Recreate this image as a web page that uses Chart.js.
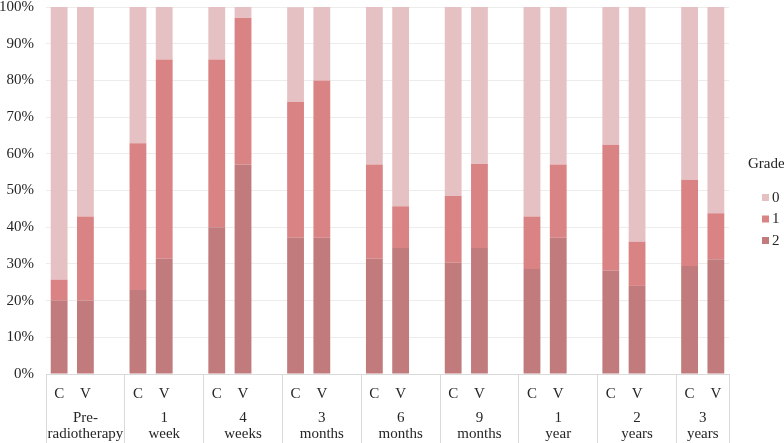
<!DOCTYPE html>
<html>
<head>
<meta charset="utf-8">
<script src="https://cdn.jsdelivr.net/npm/chart.js@4/dist/chart.umd.min.js"></script>
<style>
  html, body { margin: 0; padding: 0; background: #fff; }
  #wrap { width: 784px; height: 443px; position: relative; }
</style>
</head>
<body>
<div id="wrap"><canvas id="graph1"></canvas></div>
<script>
// time points (two-line group labels) and arms inside each group
const timePoints = [
    ['Pre-', 'radiotherapy'], ['1', 'week'], ['4', 'weeks'], ['3', 'months'],
    ['6', 'months'], ['9', 'months'], ['1', 'year'], ['2', 'years'], ['3', 'years']
];
const arms = ['C', 'V'];

// percent of patients per grade, ordered C, V for each time point
const grade2 = [20.0, 20.0, 22.9, 31.4, 40.0, 57.1, 37.1, 37.1, 31.4, 34.3, 30.3, 34.3, 28.6, 37.1, 28.1, 24.0, 29.4, 31.3];
const grade1 = [5.7, 22.9, 40.0, 54.3, 45.7, 40.0, 37.1, 42.9, 25.7, 11.4, 18.2, 22.9, 14.3, 20.0, 34.4, 12.0, 23.5, 12.5];
const grade0 = [74.3, 57.1, 37.1, 14.3, 14.3, 2.9, 25.7, 20.0, 42.9, 54.3, 51.5, 42.9, 57.1, 42.9, 37.5, 64.0, 47.1, 56.2];

const yTicks = [0, 10, 20, 30, 40, 50, 60, 70, 80, 90, 100];

const serif = "'Liberation Serif', 'Times New Roman', serif";
const textColor = '#262626';
const lineColor = '#d9d9d9';

// build category list with an empty slot between groups
const labels = [];
const groupRanges = [];
function spread(values) {
    const out = [];
    timePoints.forEach((tp, g) => {
        arms.forEach((arm, a) => out.push(values[g * arms.length + a]));
        if (g < timePoints.length - 1) out.push(null);
    });
    return out;
}
timePoints.forEach((tp, g) => {
    const start = labels.length;
    arms.forEach((arm) => labels.push(arm));
    groupRanges.push([start, labels.length - 1]);
    if (g < timePoints.length - 1) labels.push('');
});

const groupLabelPlugin = {
    id: 'groupLabels',
    afterDraw(chart) {
        const ctx = chart.ctx;
        const x = chart.scales.x;
        const slot = x.getPixelForValue(1) - x.getPixelForValue(0);
        const base = chart.chartArea.bottom;
        ctx.save();
        ctx.font = '15px ' + serif;
        ctx.fillStyle = textColor;
        ctx.textAlign = 'center';
        ctx.textBaseline = 'middle';
        groupRanges.forEach(([s, e], g) => {
            let right = x.getPixelForValue(e) + slot / 2;
            if (e + 1 < labels.length) right += slot;
            const left = x.getPixelForValue(s) - slot / 2;
            const cx = (left + right) / 2;
            ctx.fillText(timePoints[g][0], cx, base + 44);
            ctx.fillText(timePoints[g][1], cx, base + 60);
        });
        ctx.restore();
    }
};

const legendPlugin = {
    id: 'gradeLegend',
    afterDraw(chart) {
        const ctx = chart.ctx;
        const left = chart.chartArea.right + 19;
        ctx.save();
        ctx.font = '15px ' + serif;
        ctx.fillStyle = textColor;
        ctx.textBaseline = 'middle';
        ctx.fillText('Grade', left, 164);
        const sets = chart.data.datasets.slice().reverse();
        sets.forEach((ds, i) => {
            const y = 198 + i * 21.5;
            ctx.fillStyle = ds.backgroundColor;
            ctx.fillRect(left + 14, y - 4, 7, 7);
            ctx.fillStyle = textColor;
            ctx.fillText(ds.label, left + 24, y);
        });
        ctx.restore();
    }
};

const config = {
    type: 'bar',
    data: {
        labels: labels,
        datasets: [
            { label: '2', data: spread(grade2), backgroundColor: '#c17b7d' },
            { label: '1', data: spread(grade1), backgroundColor: '#d98385' },
            { label: '0', data: spread(grade0), backgroundColor: '#e6c1c4' }
        ]
    },
    options: {
        responsive: true,
        maintainAspectRatio: false,
        animation: false,
        layout: { padding: { top: 7, right: 55, bottom: 0, left: 0 } },
        datasets: { bar: { barPercentage: 0.64, categoryPercentage: 1.0 } },
        plugins: {
            legend: { display: false },
            tooltip: { enabled: false }
        },
        scales: {
            x: {
                stacked: true,
                grid: {
                    offset: true,
                    drawOnChartArea: false,
                    tickLength: 69,
                    color: (c) => (c.type !== 'tick' || labels[c.index] === 'C') ? lineColor : 'rgba(0,0,0,0)',
                    tickColor: (c) => (c.type !== 'tick' || labels[c.index] === 'C') ? lineColor : 'rgba(0,0,0,0)'
                },
                border: { color: lineColor },
                ticks: {
                    autoSkip: false,
                    maxRotation: 0,
                    padding: -58,
                    color: textColor,
                    font: { family: serif, size: 15 }
                },
                afterFit(scale) { scale.height = 69; }
            },
            y: {
                stacked: true,
                min: 0,
                max: 100,
                grid: { color: '#ececec', drawTicks: false },
                border: { display: false },
                afterBuildTicks(scale) { scale.ticks = yTicks.map((v) => ({ value: v })); },
                afterFit(scale) {
                    scale.width = 46;
                    scale.paddingTop = 0;
                    scale.paddingBottom = 0;
                },
                ticks: {
                    padding: 12,
                    color: textColor,
                    font: { family: serif, size: 15 },
                    callback: (v) => v + '%'
                }
            }
        }
    },
    plugins: [groupLabelPlugin, legendPlugin]
};

const ctx = document.getElementById('graph1').getContext('2d');
new Chart(ctx, config);
</script>
</body>
</html>
